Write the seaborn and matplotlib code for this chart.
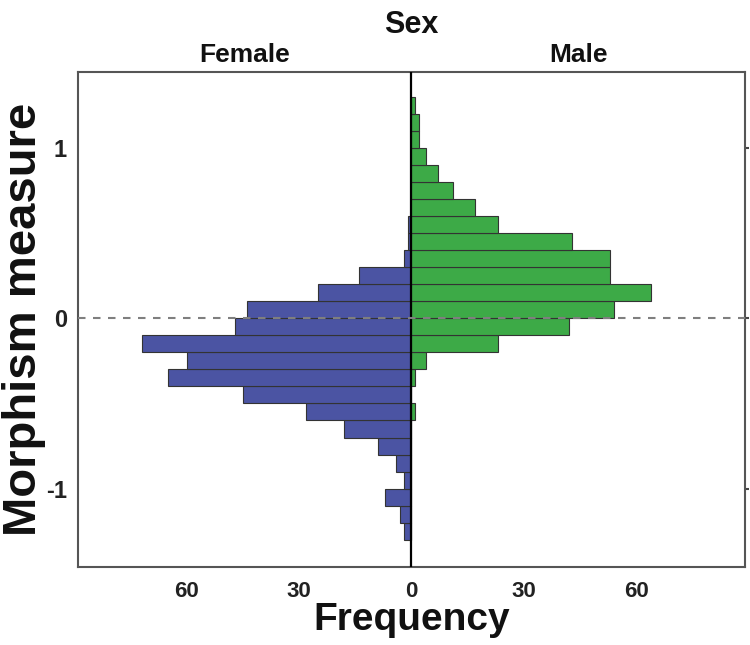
"""Back-to-back histogram of the morphism measure, females left, males right."""

import matplotlib
matplotlib.use("Agg")
import matplotlib.pyplot as plt
import numpy as np
import pandas as pd
import seaborn as sns

# ---------------------------------------------------------------------------
# Data (bin width 0.1)
# ---------------------------------------------------------------------------

bin_edges = [-1.3, -1.2, -1.1, -1.0, -0.9, -0.8, -0.7, -0.6, -0.5, -0.4,
             -0.3, -0.2, -0.1, 0.0, 0.1, 0.2, 0.3, 0.4, 0.5, 0.6,
             0.7, 0.8, 0.9, 1.0, 1.1, 1.2, 1.3]

female_counts = [2, 3, 7, 2, 4, 9, 18, 28, 45, 65,
                 60, 72, 47, 44, 25, 14, 2, 1, 1, 0,
                 0, 0, 0, 0, 0, 0]

male_counts = [0, 0, 0, 0, 0, 0, 0, 1, 0, 1,
               4, 23, 42, 54, 64, 53, 53, 43, 23, 17,
               11, 7, 4, 2, 2, 1]

sexes = ["Female", "Male"]
x_ticks = [-60, -30, 0, 30, 60]
x_tick_labels = ["60", "30", "0", "30", "60"]
y_ticks = [-1, 0, 1]
y_tick_labels = ["-1", "0", "1"]

FEMALE_COLOR = "#4B54A3"
MALE_COLOR = "#3DAA47"

# ---------------------------------------------------------------------------
# Plot
# ---------------------------------------------------------------------------

sns.set_style("white")
plt.rcParams["font.family"] = ["Liberation Sans", "DejaVu Sans"]

fig, ax = plt.subplots(figsize=(7.5, 6.45), dpi=100)
fig.subplots_adjust(left=0.104, right=0.993, bottom=0.121, top=0.888)

edges = np.array(bin_edges)
mids = (edges[:-1] + edges[1:]) / 2
df_f = pd.DataFrame({"measure": mids, "count": -np.array(female_counts)})  # left side
df_m = pd.DataFrame({"measure": mids, "count": np.array(male_counts)})

sns.histplot(
    data=df_f, y="measure", weights="count", bins=bin_edges,
    color=FEMALE_COLOR, edgecolor="#333333", linewidth=0.8, alpha=1,
    ax=ax,
)
sns.histplot(
    data=df_m, y="measure", weights="count", bins=bin_edges,
    color=MALE_COLOR, edgecolor="#333333", linewidth=0.8, alpha=1,
    ax=ax,
)

ax.axvline(0, color="black", linewidth=1.6, zorder=4)
ax.axhline(0, color="#7f7f7f", linewidth=1.5, linestyle=(0, (3.6, 3.6)), zorder=5)

ax.set_xlim(-89, 89)
ax.set_ylim(-1.46, 1.445)

ax.set_xticks(x_ticks)
ax.set_xticklabels(x_tick_labels)
ax.set_yticks(y_ticks)
ax.set_yticklabels(y_tick_labels)
ax.tick_params(axis="both", width=1.5, colors="#444444", labelcolor="#222222")
ax.tick_params(axis="x", length=6.5, pad=3.5, labelsize=16)
ax.tick_params(axis="y", length=6, pad=2, labelsize=17)
ax.tick_params(axis="y", which="major", right=True)
for lab in ax.get_xticklabels() + ax.get_yticklabels():
    lab.set_fontweight("bold")
for t in ax.yaxis.get_major_ticks():
    t.tick2line.set_markersize(3)

for spine in ax.spines.values():
    spine.set_color("#555555")
    spine.set_linewidth(1.5)

ax.set_xlabel("Frequency", fontsize=28, fontweight="bold", color="#111111")
ax.set_ylabel("Morphism measure", fontsize=34, fontweight="bold", color="#111111")
ax.xaxis.label.set_va("baseline")
ax.yaxis.label.set_va("baseline")
ax.xaxis.set_label_coords(0.5, -0.127)
ax.yaxis.set_label_coords(-0.063, 0.5)

# facet-style header
ax.text(0.5, 1.0 + 47 / 495, "Sex", transform=ax.transAxes,
        ha="center", va="center", fontsize=22, fontweight="bold", color="#111111")
for xpos, name in zip([0.25, 0.75], sexes):
    ax.text(xpos, 1.0 + 17 / 495, name, transform=ax.transAxes,
            ha="center", va="center", fontsize=19, fontweight="bold", color="#111111")

fig.savefig("out.png", dpi=100)
